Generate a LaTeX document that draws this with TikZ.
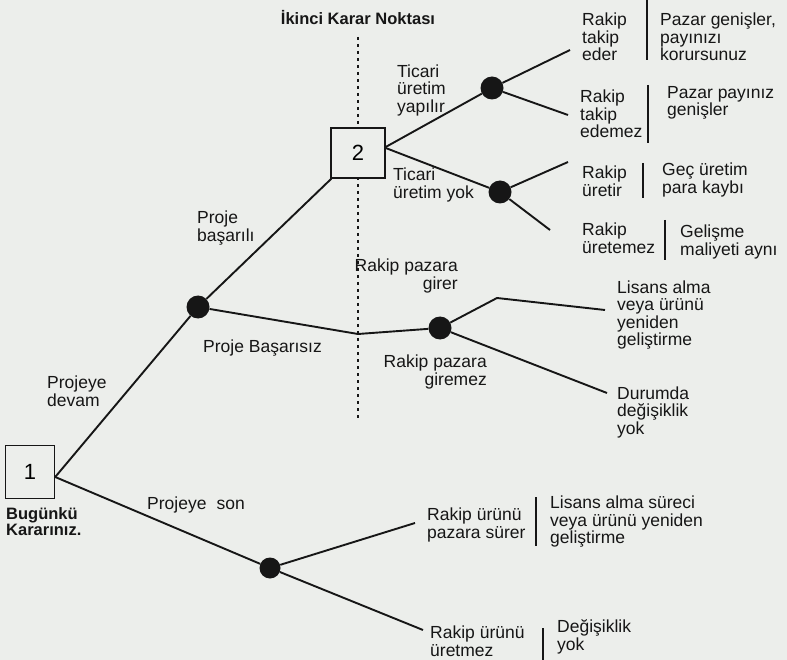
\documentclass[tikz,border=0pt]{standalone}
\usepackage{fontspec}
\setmainfont{Liberation Sans}
\usepackage{tikz}
\definecolor{paper}{RGB}{236,238,235}
\definecolor{ink}{RGB}{22,22,22}

\tikzset{
    karar/.style={draw=ink, line width=1.4pt, fill=paper, inner sep=0,
        font=\fontsize{22}{22}\selectfont},
    sans/.style={circle, fill=ink, minimum size=23pt, inner sep=0},
    etiket/.style={inner sep=0, align=left, text=ink,
        font=\fontsize{17.5}{17.5}\selectfont},
    dal/.style={draw=ink, line width=1.9pt},
    ayrac/.style={draw=ink, line width=1.4pt},
    nokta/.style={draw=ink, line width=1.5pt, dash pattern=on 3pt off 4pt}
}

\begin{document}
\begin{tikzpicture}[x=1pt, y=-1pt]
                \fill[paper] (0,0) rectangle (787,660);
                \useasboundingbox (0,0) rectangle (787,660);

                \draw[nokta] (358,37) -- (358,420);

                \node[karar, minimum width=49pt, minimum height=53pt] (d1) at (30,472) {1};
                \node[karar, minimum width=54pt, minimum height=50pt] (d2) at (358,153) {2};

                \node[sans] (c1) at (198,307) {};
                \node[sans] (c2) at (492,88) {};
                \node[sans] (c3) at (500,192) {};
                \node[sans] (c4) at (440,328) {};
                \node[sans, minimum size=21pt] (c5) at (270,568) {};

                \coordinate (e1) at (570,50);
                \coordinate (e2) at (568,115);
                \coordinate (e3) at (568,162);
                \coordinate (e4) at (550,230);
                \coordinate (e5) at (415,523);
                \coordinate (e6) at (423,630);
                \coordinate (e7) at (605,310);
                \coordinate (e8) at (607,393);
                \coordinate (k1) at (497,298);
                \coordinate (x1) at (358,334);

                \draw[dal] ([yshift=-5pt]d1.east) -- (c1);
                \draw[dal] (c1) -- (d2);
                \draw[dal] ([yshift=-5pt]d1.east) -- (c5);
                \draw[dal] ([yshift=6pt]d2.east) -- (c2);
                \draw[dal] ([yshift=5pt]d2.east) -- (c3);
                \draw[dal] (c2) -- (e1);
                \draw[dal] (c2) -- (e2);
                \draw[dal] (c3) -- (e3);
                \draw[dal] (c3) -- (e4);
                \draw[dal] (c1) -- (x1) -- (c4);
                \draw[dal] (c4) -- (k1) -- (e7);
                \draw[dal] (c4) -- (e8);
                \draw[dal] (c5) -- (e5);
                \draw[dal] (c5) -- (e6);

                \draw[ayrac] (647,0) -- (647,60);
                \draw[ayrac] (648,85) -- (648,143);
                \draw[ayrac] (643,163) -- (643,198);
                \draw[ayrac] (665,220) -- (665,260);
                \draw[ayrac] (536,497) -- (536,546);
                \draw[ayrac] (543,628) -- (543,660);

                \node[etiket, font=\fontsize{16.5}{17}\bfseries] (baslik) at (358,18) {İkinci Karar Noktası};
                \node[etiket, font=\fontsize{16.5}{16}\bfseries, anchor=west] (bugun) at (6,522) {Bugünkü\\Kararınız.};

                \node[etiket, anchor=west] (tyap) at (397,90) {Ticari\\üretim\\yapılır};
                \node[etiket, anchor=west] (tyok) at (393,185) {Ticari\\üretim yok};
                \node[etiket, anchor=west] (pbas) at (197,228) {Proje\\başarılı};
                \node[etiket, anchor=west] (pbsz) at (203,348) {Proje Başarısız};
                \node[etiket, anchor=west] (pdev) at (47,391) {Projeye\\devam};
                \node[etiket, anchor=west] (pson) at (147,505) {Projeye\hspace{0.3em} son};

                \node[etiket, anchor=west] (r1) at (582,37) {Rakip\\takip\\eder};
                \node[etiket, anchor=west] (o1) at (660,37) {Pazar genişler,\\payınızı\\korursunuz};
                \node[etiket, anchor=west] (r2) at (580,114) {Rakip\\takip\\edemez};
                \node[etiket, anchor=west] (o2) at (667,103) {Pazar payınız\\genişler};
                \node[etiket, anchor=west] (r3) at (582,181) {Rakip\\üretir};
                \node[etiket, anchor=west] (o3) at (662,180) {Geç üretim\\para kaybı};
                \node[etiket, anchor=west] (r4) at (582,238) {Rakip\\üretemez};
                \node[etiket, anchor=west] (o4) at (680,242) {Gelişme\\maliyeti aynı};

                \node[etiket, align=right, anchor=east] (rgir) at (458,276) {Rakip pazara\\girer};
                \node[etiket, align=right, anchor=east] (rgmz) at (487,372) {Rakip pazara\\giremez};
                \node[etiket, anchor=west] (o7) at (617,315) {Lisans alma\\veya ürünü\\yeniden\\geliştirme};
                \node[etiket, anchor=west] (o8) at (617,412) {Durumda\\değişiklik\\yok};

                \node[etiket, anchor=west] (r5) at (427,525) {Rakip ürünü\\pazara sürer};
                \node[etiket, anchor=west] (o5) at (550,522) {Lisans alma süreci\\veya ürünü yeniden\\geliştirme};
                \node[etiket, anchor=west] (r6) at (430,641) {Rakip ürünü\\üretmez};
                \node[etiket, anchor=west] (o6) at (557,637) {Değişiklik\\yok};
            \end{tikzpicture}
\end{document}
